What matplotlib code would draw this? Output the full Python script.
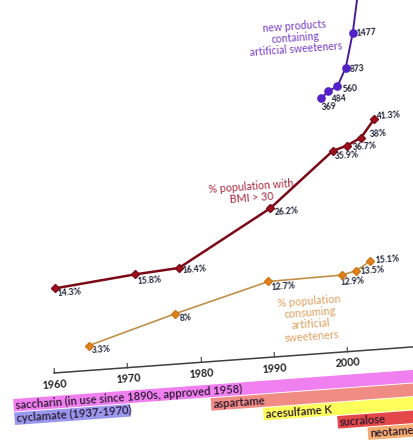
import numpy as np
import matplotlib
matplotlib.use("Agg")
import matplotlib.pyplot as plt
from matplotlib.transforms import Affine2D
import mpl_toolkits.axisartist.floating_axes as floating_axes
from mpl_toolkits.axisartist.grid_finder import FixedLocator, DictFormatter

# ---------------- data ----------------
bmi_years = [1961, 1972, 1978, 1991, 2000, 2002, 2004, 2006]
bmi_pct = [14.3, 15.8, 16.4, 26.2, 35.9, 36.7, 38.0, 41.3]
bmi_labels = ["14.3%", "15.8%", "16.4%", "26.2%", "35.9%", "36.7%", "38%", "41.3%"]

sweet_years = [1965, 1977, 1990, 2000, 2002, 2004]
sweet_pct = [3.3, 8.0, 12.7, 12.9, 13.5, 15.1]
sweet_labels = ["3.3%", "8%", "12.7%", "12.9%", "13.5%", "15.1%"]

prod_years = [1999, 2000, 2001.3, 2002.6, 2003.9, 2005.2]
prod_counts = [369, 484, 560, 873, 1477, 2300]
prod_labels = ["369", "484", "560", "873", "1477", ""]

sweeteners = ["saccharin (in use since 1890s, approved 1958)", "cyclamate (1937-1970)",
              "aspartame", "acesulfame K", "sucralose", "neotame"]
sw_start = [1954.2, 1954.2, 1981, 1988, 1998, 2002]
sw_end = [2013, 1970, 2013, 2013, 2013, 2013]
sw_row = [0, 1, 1, 2, 3, 4]

tick_years = [1960, 1970, 1980, 1990, 2000, 2010]

# ---------------- styles / layout ----------------
sw_colors = ["#f080f0", "#9a98ee", "#f08c84", "#ffff5c", "#e44848", "#f5ac70"]
bmi_off = [(2, 5), (2, 7), (3, 3), (4, 4), (2, 6), (6, 2), (8, -3), (2, -2)]
sweet_off = [(3, 5), (4, 5), (3, 6), (-1, 7), (4, 1), (5, -1)]
prod_off = [(0, 9), (3, 8), (5, 3), (4, 2), (4, 1), (0, 0)]

W, H = 413, 440
ANG = 4.16
FONT = "Lato"
plt.rcParams["font.family"] = [FONT, "DejaVu Sans"]

fig = plt.figure(figsize=(W / 100, H / 100), dpi=100)
fig.patch.set_facecolor("white")
renderer = fig.canvas.get_renderer()


def fit_size(s, target_px, weight="normal", base=10.0):
    t = fig.text(0, 0, s, fontsize=base, fontweight=weight)
    w = t.get_window_extent(renderer=renderer).width
    t.remove()
    return base * target_px / w


def spacing(px, size):
    return px / (size * 100 / 72)


def frame(y_scale, y_shift):
    return (Affine2D().translate(-1960, 0).scale(7.35, y_scale)
            .translate(0, y_shift).rotate_deg(ANG).translate(54, 67))


tr_pct = frame(5.41, 7.0)
tr_cnt = frame(0.05695, 233.6)
tr_row = frame(-13.5, -29.25)
axis_pct = -7.0 / 5.41

lab_size = fit_size("14.3%", 24, "bold")
tick_size = fit_size("1960", 25, "bold")
bar_size = fit_size(sweeteners[0], 230, "semibold")
red_cap = fit_size("% population with", 85)
org_cap = fit_size("% population", 63)
pur_cap = fit_size("artificial sweeteners", 93)

gh = floating_axes.GridHelperCurveLinear(
    tr_pct, extremes=(1960, 2013, axis_pct, 70),
    grid_locator1=FixedLocator(tick_years),
    tick_formatter1=DictFormatter({y: str(y) for y in tick_years}))
ax = fig.add_axes([0, 0, 1, 1], axes_class=floating_axes.FloatingAxes, grid_helper=gh)
ax.set_xlim(0, W)
ax.set_ylim(0, H)
for side in ["left", "right", "top"]:
    ax.axis[side].set_visible(False)
b = ax.axis["bottom"]
b.line.set_color("#404040")
b.line.set_linewidth(1.1)
b.major_ticks.set_ticksize(4)
b.major_ticks.set_color("#404040")
b.major_ticklabels.set_fontsize(tick_size)
b.major_ticklabels.set_fontweight("bold")
b.major_ticklabels.set_color("#222222")
b.major_ticklabels.set_pad(5)

aux_pct = ax.get_aux_axes(tr_pct)
aux_cnt = ax.get_aux_axes(tr_cnt)
aux_row = ax.get_aux_axes(tr_row)

# sweetener bars
aux_row.barh(sw_row, np.subtract(sw_end, sw_start), left=sw_start, height=0.93,
             color=sw_colors, linewidth=0)
for name, s, r in zip(sweeteners, sw_start, sw_row):
    aux_row.text(s + 0.3, r, name, ha="left", va="center", rotation=ANG,
                 rotation_mode="anchor", fontsize=bar_size, fontweight="semibold",
                 color="#2a1830")

# BMI line
aux_pct.plot(bmi_years, bmi_pct, color="#7a0a16", lw=1.8, marker="D", ms=3.6,
             mfc="#a0101c", mec="#7a0a16", zorder=5)
for yr, p, lab, (dx, dy) in zip(bmi_years, bmi_pct, bmi_labels, bmi_off):
    aux_pct.annotate(lab, xy=(yr, p), xytext=(dx, -dy), textcoords="offset pixels",
                     ha="left", va="center", rotation=ANG, rotation_mode="anchor",
                     fontsize=lab_size, fontweight="bold", color="#1e2236")

# sweetener consumption line
aux_pct.plot(sweet_years, sweet_pct, color="#c09048", lw=1.2, marker="D", ms=3.6,
             mfc="#e0801c", mec="#d07818", zorder=5)
for yr, p, lab, (dx, dy) in zip(sweet_years, sweet_pct, sweet_labels, sweet_off):
    aux_pct.annotate(lab, xy=(yr, p), xytext=(dx, -dy), textcoords="offset pixels",
                     ha="left", va="center", rotation=ANG, rotation_mode="anchor",
                     fontsize=lab_size, fontweight="bold", color="#1e2236")

# new products line
aux_cnt.plot(prod_years, prod_counts, color="#4a1c9c", lw=1.4, zorder=5)
aux_cnt.plot(prod_years[:-1], prod_counts[:-1], ls="none", marker="o", ms=5.2,
             mfc="#5420c8", mec="#5420c8", zorder=6)
for yr, c, lab, (dx, dy) in zip(prod_years, prod_counts, prod_labels, prod_off):
    if lab:
        aux_cnt.annotate(lab, xy=(yr, c), xytext=(dx, -dy), textcoords="offset pixels",
                         ha="left", va="center", rotation=ANG, rotation_mode="anchor",
                         fontsize=lab_size, fontweight="bold", color="#1e2236")

# series captions
aux_pct.text(1988.6, 29.4, "% population with\nBMI > 30", ha="center", va="center",
             rotation=ANG, rotation_mode="anchor", multialignment="center",
             linespacing=spacing(10.5, red_cap), fontsize=red_cap, color="#a8283e")
aux_pct.text(1995.3, 5.3, "% population\nconsuming\nartificial\nsweeteners", ha="center",
             va="center", rotation=ANG, rotation_mode="anchor", multialignment="center",
             linespacing=spacing(11.8, org_cap), fontsize=org_cap, color="#e0a060")
aux_cnt.text(1996.0, 1466, "new products\ncontaining\nartificial sweeteners", ha="center",
             va="center", rotation=ANG, rotation_mode="anchor", multialignment="center",
             linespacing=spacing(10.8, pur_cap), fontsize=pur_cap, color="#7a3cc8")

fig.savefig("out.png", dpi=100, facecolor="white")
